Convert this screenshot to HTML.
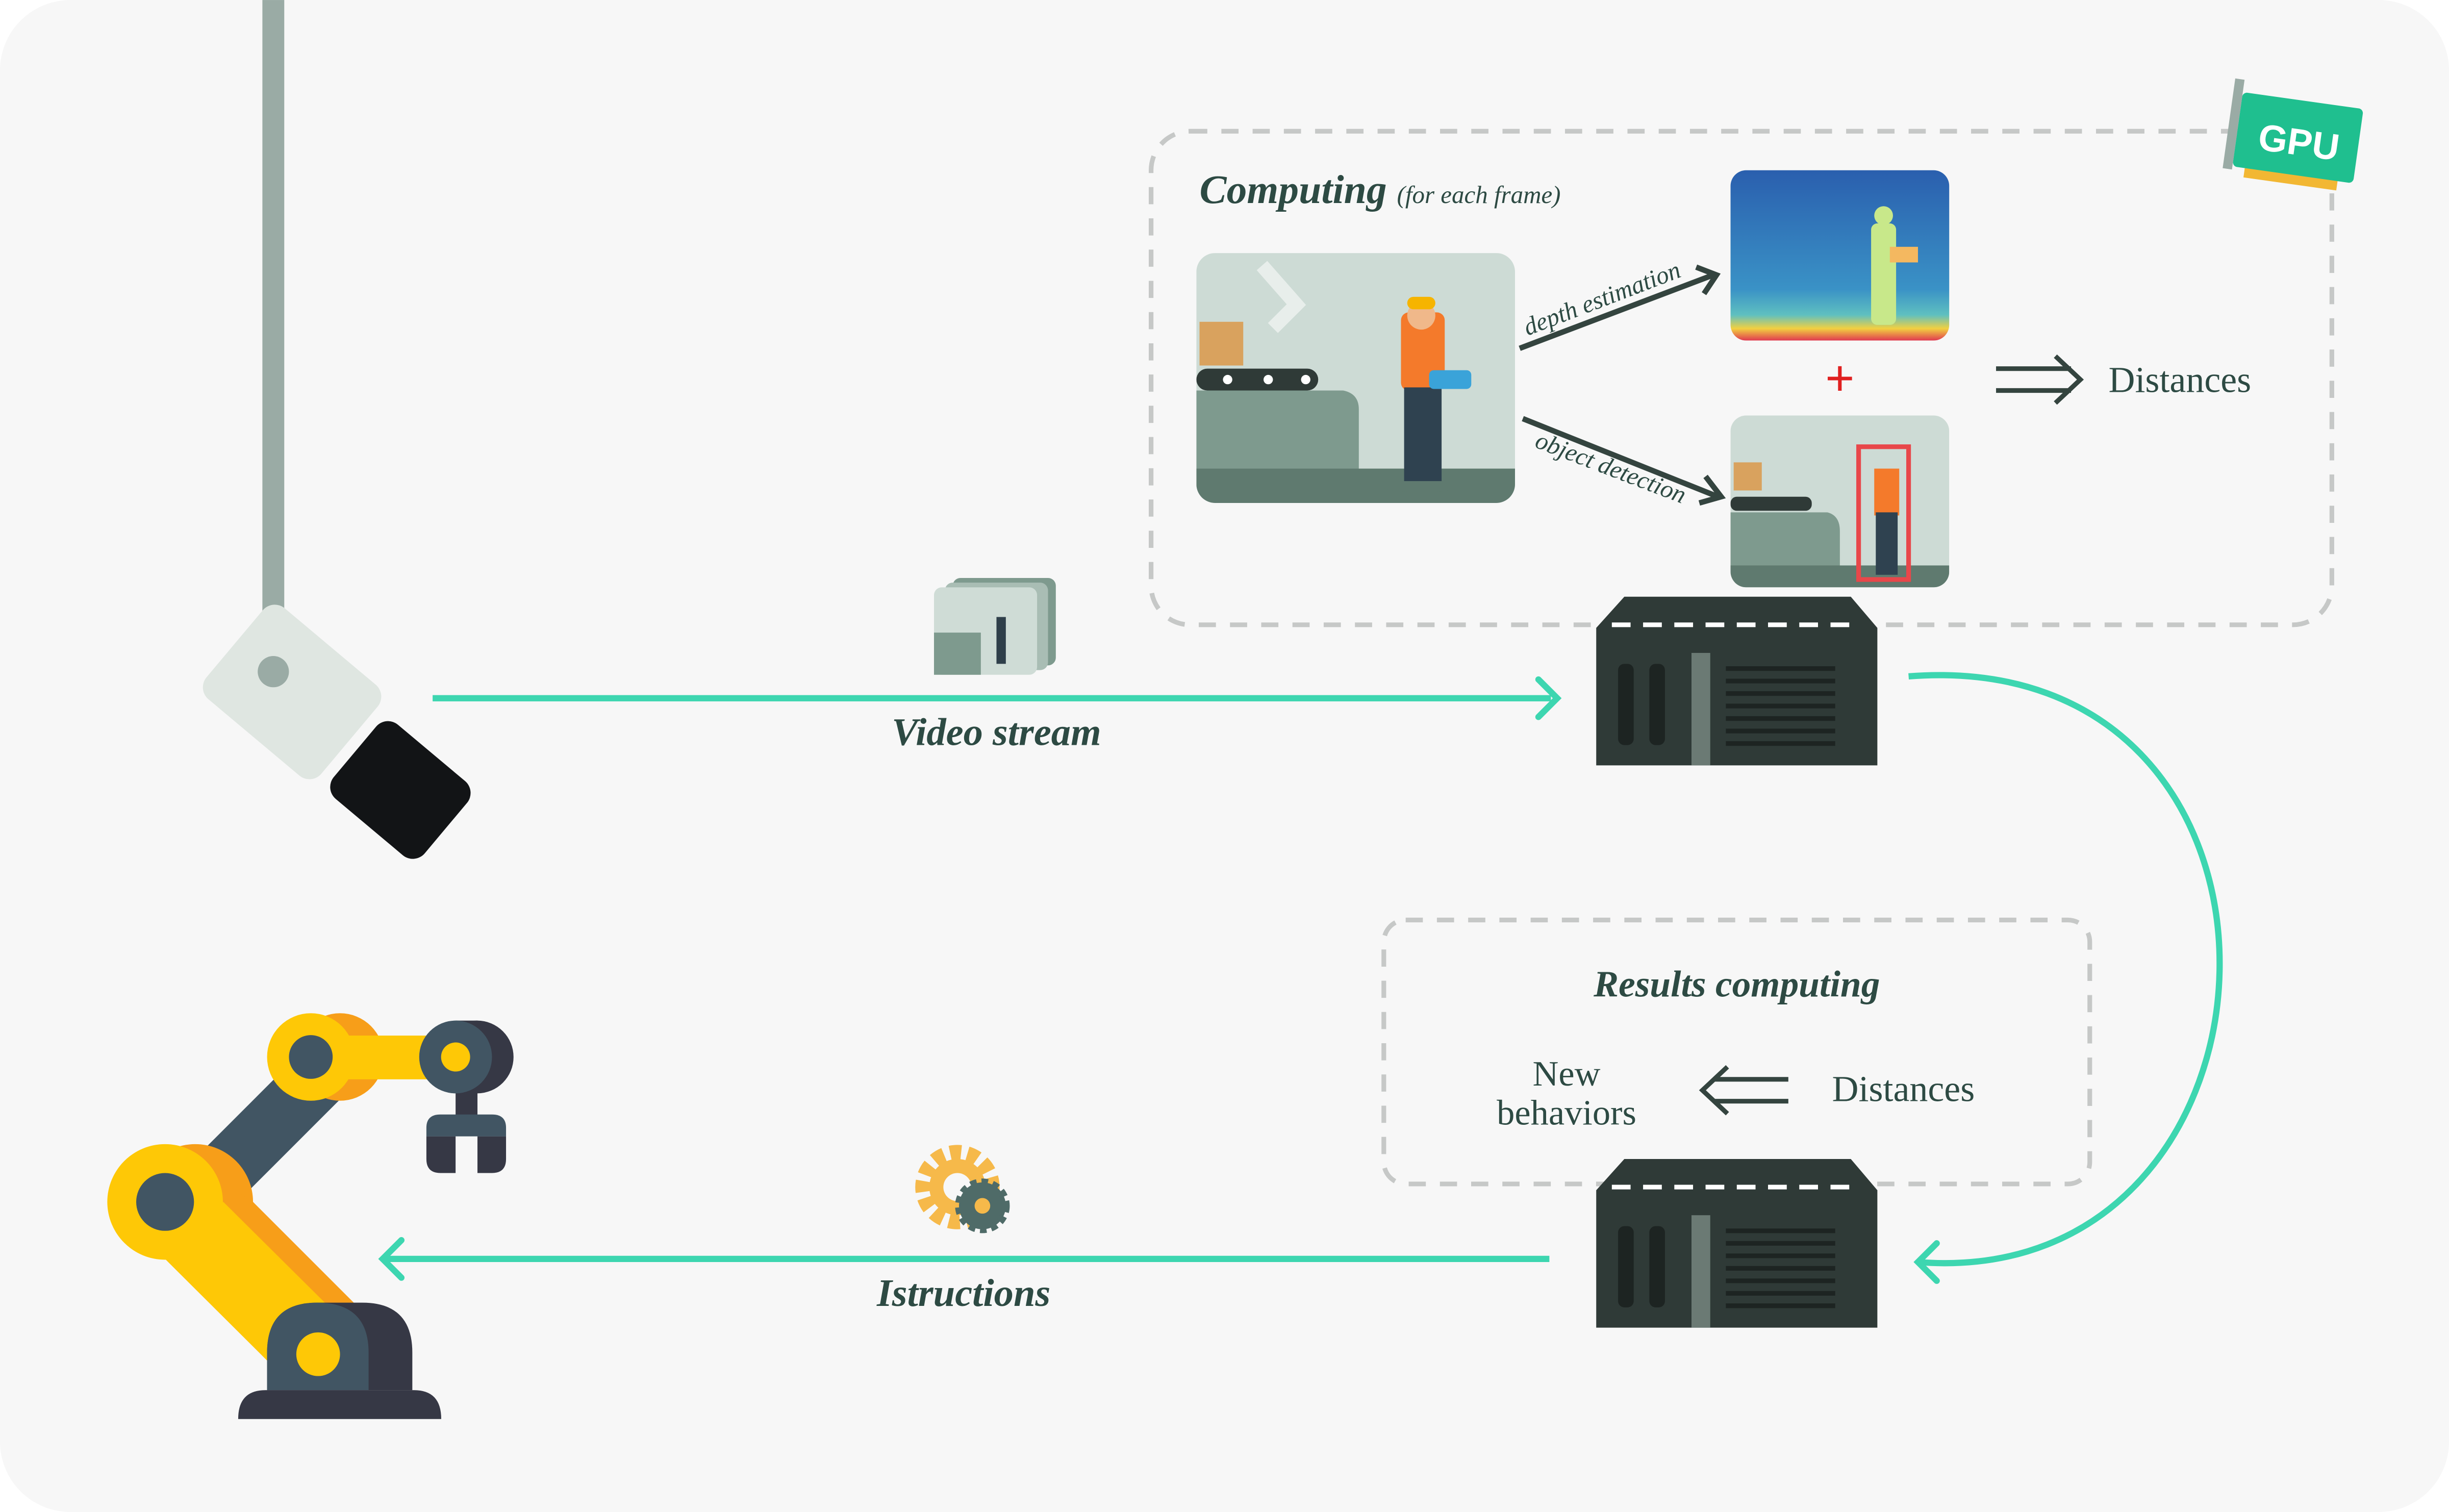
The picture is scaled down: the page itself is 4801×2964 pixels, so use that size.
<!DOCTYPE html>
<html><head><meta charset="utf-8"><style>
html,body{margin:0;padding:0;background:#fff;}
svg{display:block;}
.t{font-family:"Liberation Serif",serif;}
</style></head><body>
<svg width="4801" height="2964" viewBox="0 0 1568 968" xmlns="http://www.w3.org/2000/svg">
<rect x="0" y="0" width="1568" height="968" rx="45" fill="#f7f7f7"/>

<!-- camera -->
<rect x="168" y="0" width="14" height="430" fill="#9aaba5"/>
<g transform="translate(187,443) rotate(40)">
<rect x="-48" y="-38" width="96" height="76" rx="10" fill="#dfe6e1"/>
</g>
<circle cx="175" cy="430" r="10" fill="#9aaba5"/>
<g transform="translate(257,505) rotate(40)">
<rect x="-38" y="-30" width="76" height="62" rx="10" fill="#121416"/>
</g>

<!-- video stream -->
<line x1="277" y1="447" x2="993" y2="447" stroke="#3dd6b0" stroke-width="4"/>
<polyline points="985,435 997,447 985,459" fill="none" stroke="#3dd6b0" stroke-width="4" stroke-linecap="round"/>
<text class="t" x="638" y="477" text-anchor="middle" font-size="25" font-style="italic" font-weight="bold" fill="#2d4a43">Video stream</text>
<!-- film stack -->
<g>
<rect x="610" y="370" width="66" height="56" rx="5" fill="#7e9a8e"/>
<rect x="605" y="373" width="66" height="56" rx="5" fill="#a9bdb4"/>
<rect x="598" y="376" width="66" height="56" rx="5" fill="#cfdcd6"/>
<rect x="598" y="405" width="30" height="27" fill="#7e9a8e"/>
<rect x="638" y="395" width="6" height="30" fill="#2f3f4a"/>
</g>

<!-- dashed top box -->
<rect x="737" y="84" width="756" height="316" rx="25" fill="none" stroke="#c6c8c7" stroke-width="3" stroke-dasharray="11 9"/>
<text class="t" x="768" y="130" font-size="26" font-style="italic" font-weight="bold" fill="#2d4a43">Computing <tspan font-size="16" font-weight="normal">(for each frame)</tspan></text>

<!-- scene image -->
<clipPath id="c1"><rect x="766" y="162" width="204" height="160" rx="12"/></clipPath>
<g clip-path="url(#c1)">
<rect x="766" y="162" width="204" height="160" fill="#cddbd5"/>
<path d="M766 250 H860 Q870 252 870 262 V305 H766Z" fill="#7e9a8e"/>
<rect x="766" y="300" width="204" height="22" fill="#5f7a6f"/>
<rect x="766" y="236" width="78" height="14" rx="7" fill="#2f3a37"/>
<circle cx="786" cy="243" r="3" fill="#fff"/><circle cx="812" cy="243" r="3" fill="#fff"/><circle cx="836" cy="243" r="3" fill="#fff"/>
<rect x="768" y="206" width="28" height="28" fill="#d9a25e"/>
<path d="M808 170 L830 195 L815 210" stroke="#e8eeeb" stroke-width="9" fill="none"/>
<rect x="897" y="200" width="28" height="50" rx="5" fill="#f47a2b"/>
<rect x="899" y="248" width="24" height="60" fill="#2f4250"/>
<circle cx="910" cy="202" r="9" fill="#f0b88a"/>
<rect x="901" y="190" width="18" height="8" rx="4" fill="#f6b400"/>
<rect x="915" y="237" width="27" height="12" rx="3" fill="#3aa3d9"/>
<ellipse cx="910" cy="312" rx="24" ry="3" fill="#5f7a6f"/>
</g>

<!-- arrows -->
<line x1="973" y1="223" x2="1097" y2="176" stroke="#34443f" stroke-width="3.5"/>
<polyline points="1086,171 1099,176 1091,188" fill="none" stroke="#34443f" stroke-width="3.5"/>
<text class="t" transform="translate(978,215) rotate(-21)" font-size="16" font-style="italic" fill="#2d4a43">depth estimation</text>
<line x1="975" y1="268" x2="1100" y2="318" stroke="#34443f" stroke-width="3.5"/>
<polyline points="1092,305 1102,318 1088,322" fill="none" stroke="#34443f" stroke-width="3.5"/>
<text class="t" transform="translate(982,286) rotate(21)" font-size="16" font-style="italic" fill="#2d4a43">object detection</text>

<!-- depth image -->
<defs><linearGradient id="dg" x1="0" y1="0" x2="0" y2="1">
<stop offset="0" stop-color="#2a5fae"/><stop offset="0.7" stop-color="#3a92c6"/><stop offset="0.85" stop-color="#5fc0c0"/><stop offset="0.93" stop-color="#f2d040"/><stop offset="1" stop-color="#e03a50"/></linearGradient></defs>
<rect x="1108" y="109" width="140" height="109" rx="10" fill="url(#dg)"/>
<rect x="1198" y="143" width="16" height="65" rx="4" fill="#c8e88a"/>
<circle cx="1206" cy="138" r="6" fill="#c8e88a"/>
<rect x="1210" y="158" width="18" height="10" fill="#f4b860"/>
<text x="1178" y="253" text-anchor="middle" font-family="Liberation Sans,sans-serif" font-size="32" fill="#e02020">+</text>

<!-- detection image -->
<clipPath id="c2"><rect x="1108" y="266" width="140" height="110" rx="10"/></clipPath>
<g clip-path="url(#c2)">
<rect x="1108" y="266" width="140" height="110" fill="#cddbd5"/>
<path d="M1108 328 H1170 Q1178 330 1178 340 V365 H1108Z" fill="#7e9a8e"/>
<rect x="1108" y="362" width="140" height="14" fill="#5f7a6f"/>
<rect x="1108" y="318" width="52" height="9" rx="4" fill="#2f3a37"/>
<rect x="1110" y="296" width="18" height="18" fill="#d9a25e"/>
<rect x="1200" y="300" width="16" height="30" fill="#f47a2b"/>
<rect x="1201" y="328" width="14" height="40" fill="#2f4250"/>
<rect x="1190" y="286" width="32" height="85" fill="none" stroke="#e8474a" stroke-width="3"/>
</g>

<!-- distances top -->
<path d="M1278 236 H1326 M1278 250 H1326" stroke="#34443f" stroke-width="3"/>
<polyline points="1316,228 1332,243 1316,258" fill="none" stroke="#34443f" stroke-width="3"/>
<text class="t" x="1350" y="251" font-size="23.5" fill="#2d4a43">Distances</text>

<!-- GPU -->
<g transform="translate(1470,90) rotate(8)">
<rect x="-30" y="20" width="60" height="8" fill="#f2b733"/>
<rect x="-38" y="-26" width="78" height="48" rx="3" fill="#1fbf8f"/>
<rect x="-44" y="-34" width="6" height="58" fill="#9aaba5"/>
<text x="2" y="9" text-anchor="middle" font-family="Liberation Sans,sans-serif" font-size="24" font-weight="bold" fill="#fff">GPU</text>
</g>

<!-- server 1 -->
<g>
<path d="M1040 382 H1185 L1202 402 V490 H1022 V402Z" fill="#2f3a37"/>
<path d="M1032 400 H1192" stroke="#fff" stroke-width="3" stroke-dasharray="12 8"/>
<rect x="1036" y="425" width="10" height="52" rx="4" fill="#1d2422"/>
<rect x="1056" y="425" width="10" height="52" rx="4" fill="#1d2422"/>
<rect x="1083" y="418" width="12" height="72" fill="#6b7a74"/>
<g stroke="#1d2422" stroke-width="3"><path d="M1105 428H1175M1105 436H1175M1105 444H1175M1105 452H1175M1105 460H1175M1105 468H1175M1105 476H1175"/></g>
</g>

<!-- curve -->
<path d="M1222 433 C1495 412 1478 828 1228 808" fill="none" stroke="#3dd6b0" stroke-width="4"/>
<polyline points="1240,796 1228,808 1240,820" fill="none" stroke="#3dd6b0" stroke-width="4" stroke-linecap="round"/>

<!-- dashed box 2 -->
<rect x="886" y="589" width="452" height="169" rx="14" fill="none" stroke="#c6c8c7" stroke-width="3" stroke-dasharray="11 9"/>
<text class="t" x="1112" y="638" text-anchor="middle" font-size="24" font-style="italic" font-weight="bold" fill="#2d4a43">Results computing</text>
<text class="t" x="1003" y="695" text-anchor="middle" font-size="23" fill="#2d4a43">New</text>
<text class="t" x="1003" y="720" text-anchor="middle" font-size="23" fill="#2d4a43">behaviors</text>
<path d="M1098 691 H1145 M1098 705 H1145" stroke="#34443f" stroke-width="3"/>
<polyline points="1106,683 1090,698 1106,713" fill="none" stroke="#34443f" stroke-width="3"/>
<text class="t" x="1173" y="705" font-size="23.5" fill="#2d4a43">Distances</text>

<!-- server 2 -->
<g transform="translate(0,360)">
<path d="M1040 382 H1185 L1202 402 V490 H1022 V402Z" fill="#2f3a37"/>
<path d="M1032 400 H1192" stroke="#fff" stroke-width="3" stroke-dasharray="12 8"/>
<rect x="1036" y="425" width="10" height="52" rx="4" fill="#1d2422"/>
<rect x="1056" y="425" width="10" height="52" rx="4" fill="#1d2422"/>
<rect x="1083" y="418" width="12" height="72" fill="#6b7a74"/>
<g stroke="#1d2422" stroke-width="3"><path d="M1105 428H1175M1105 436H1175M1105 444H1175M1105 452H1175M1105 460H1175M1105 468H1175M1105 476H1175"/></g>
</g>

<!-- instructions -->
<line x1="992" y1="806" x2="247" y2="806" stroke="#3dd6b0" stroke-width="4"/>
<polyline points="257,794 245,806 257,818" fill="none" stroke="#3dd6b0" stroke-width="4" stroke-linecap="round"/>
<text class="t" x="617" y="836" text-anchor="middle" font-size="25" font-style="italic" font-weight="bold" fill="#2d4a43">Istructions</text>
<circle cx="613" cy="760" r="22" fill="none" stroke="#f6b94a" stroke-width="10" stroke-dasharray="7 4"/>
<circle cx="613" cy="760" r="18" fill="#f6b94a"/>
<circle cx="613" cy="760" r="9" fill="#f7f7f7"/>
<circle cx="629" cy="772" r="15" fill="#4f6b68" stroke="#4f6b68" stroke-width="5" stroke-dasharray="4 3"/>
<circle cx="629" cy="772" r="5" fill="#f6b94a"/>

<!-- robot arm -->
<line x1="125" y1="769" x2="215" y2="679" stroke="#415563" stroke-width="39"/>
<circle cx="125" cy="769.5" r="37" fill="#f79e19"/>
<polygon points="105,733 162,769.5 226.5,834 171,871 105.7,806" fill="#f79e19"/>
<polygon points="105.7,806 171,871 208,834 143,769.5" fill="#fec806"/>
<circle cx="105.7" cy="769.5" r="37" fill="#fec806"/>
<circle cx="105.7" cy="769.5" r="18.5" fill="#415563"/>
<circle cx="217.7" cy="676.7" r="28" fill="#f79e19"/>
<rect x="215" y="663" width="62" height="28" fill="#fec806"/>
<circle cx="199" cy="676.7" r="28" fill="#fec806"/>
<circle cx="199" cy="676.7" r="14" fill="#415563"/>
<rect x="291.7" y="695" width="14" height="20" fill="#363845"/>
<circle cx="305.5" cy="676.7" r="23.3" fill="#363845"/>
<rect x="291.7" y="653.4" width="14" height="46.6" fill="#363845"/>
<circle cx="291.7" cy="676.7" r="23.3" fill="#415563"/>
<circle cx="291.7" cy="676.7" r="9.3" fill="#fec806"/>
<path d="M273 727.5 V742 Q273 751 282 751 H291.7 V727.5 Z M305.7 727.5 V751 H315 Q324 751 324 742 V727.5 Z" fill="#363845"/>
<path d="M273 727.5 V722 Q273 713.5 282 713.5 H315 Q324 713.5 324 722 V727.5 Z" fill="#415563"/>
<path d="M171 890 V866 Q171 834 203 834 H232 Q264 834 264 866 V890Z" fill="#363845"/>
<path d="M171 890 V866 Q171 834 203 834 Q236 834 236 866 V890Z" fill="#415563"/>
<circle cx="203.7" cy="867" r="14" fill="#fec806"/>
<path d="M152.5 908.5 Q152.5 890 170 890 H265 Q282.5 890 282.5 908.5 Z" fill="#363845"/>
</svg>
</body></html>
